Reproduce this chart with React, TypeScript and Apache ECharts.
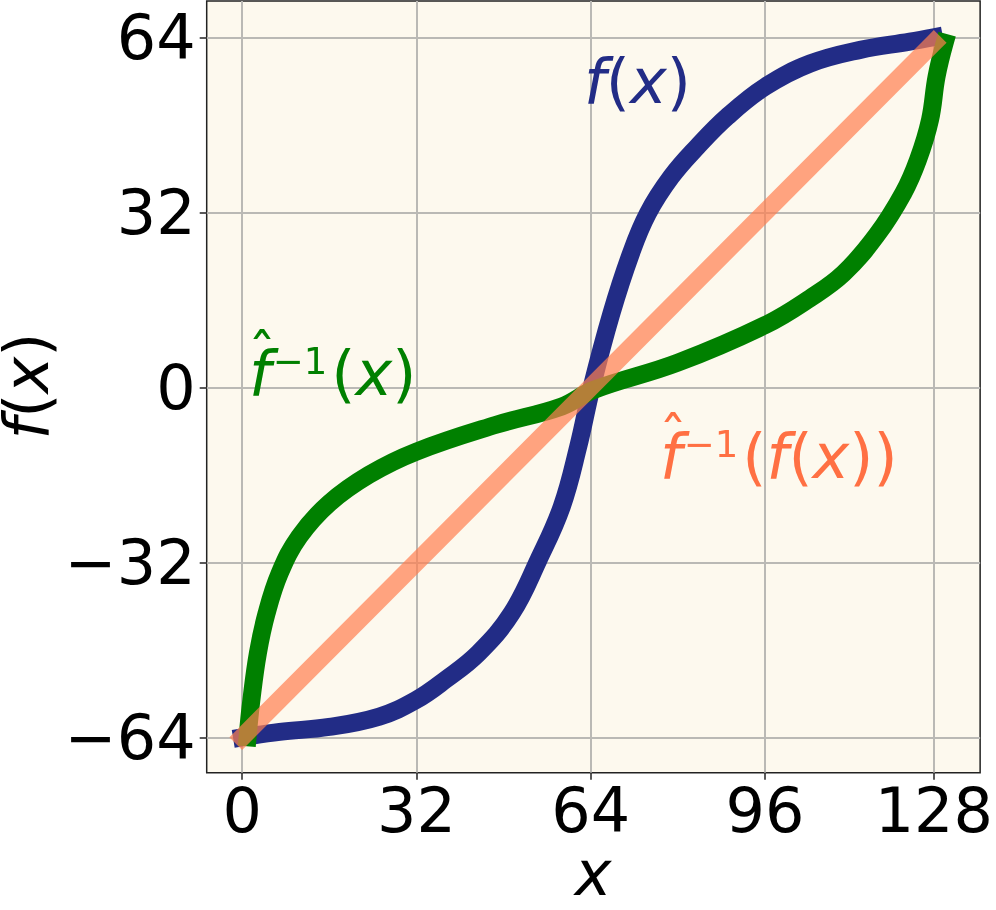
import React, { useEffect, useRef } from 'react';
import * as echarts from 'echarts';

// ---- data ----
const blueX = [0, 6.9, 16.0, 25.2, 31.9, 37.3, 43.4, 49.5, 54.4, 58.7, 61.7, 64.2, 67.8, 71.4, 74.5, 78.8, 83.6, 89.1, 96.1, 104.3, 113.5, 122.6, 127];
const blueY = [-64, -63.0, -62.1, -60.2, -57.2, -53.5, -48.6, -41.3, -31.6, -21.8, -10.9, 0.1, 13.5, 24.5, 31.8, 38.5, 44.0, 49.5, 55.0, 59.2, 61.7, 63.2, 64];

const greenX = [1, 1.7, 2.9, 4.5, 6.9, 10.5, 16.0, 23.3, 31.9, 46.5, 58.7, 64.5, 80.0, 96.1, 104.3, 110.4, 116.5, 121.4, 124.1, 126.3, 127.5, 129];
const greenY = [-64, -57.2, -48.6, -41.3, -34.0, -27.3, -21.2, -16.0, -11.8, -6.9, -3.5, -0.5, 4.5, 11.4, 16.3, 20.8, 27.8, 35.5, 41.6, 48.9, 56.8, 63];

const orangeX = [0, 127];
const orangeY = [-64, 63];

const xTickValues = [0, 32, 64, 96, 127];
const xTickLabels = ['0', '32', '64', '96', '128'];
const yTickValues = [-64, -32, 0, 32, 64];
const yTickLabels = ['\u221264', '\u221232', '0', '32', '64'];

const BLUE = '#222C86';
const GREEN = '#008000';
const CORAL = '#FF7F50';
const CORAL_TEXT = '#FF7043';
const FONT = "'DejaVu Sans', sans-serif";

const pairs = (xs: number[], ys: number[]) => xs.map((x, i) => [x, ys[i]]);

function mathRich(size: number, color: string) {
  return {
    i: { fontFamily: FONT, fontStyle: 'italic', fontSize: size, fill: color, color, lineHeight: size },
    u: { fontFamily: FONT, fontSize: size, fill: color, color, lineHeight: size },
    s: { fontFamily: FONT, fontSize: 37, fill: color, color, lineHeight: 44, verticalAlign: 'top', padding: [0, 4, 0, 2] },
  };
}

export default function App() {
  const ref = useRef<HTMLDivElement>(null);
  useEffect(() => {
    if (!ref.current) return;
    const chart = echarts.init(ref.current, undefined, { renderer: 'svg' });
    const lineSeries = (name: string, xs: number[], ys: number[], color: string, opacity: number) => ({
      name,
      type: 'line',
      data: pairs(xs, ys),
      showSymbol: false,
      symbol: 'none',
      smooth: 0.4,
      lineStyle: { color, width: 18, cap: 'square', join: 'round', opacity },
      emphasis: { disabled: true },
    });
    chart.setOption({
      animation: false,
      grid: {
        left: 206.7, top: 1, width: 777.3, height: 771.7,
        show: true, backgroundColor: '#FDF9EE', borderColor: '#222', borderWidth: 1.5,
      },
      xAxis: {
        type: 'value', min: -6.5, max: 135.5,
        axisLine: { show: false, onZero: false },
        axisTick: { show: true, length: 7, customValues: xTickValues, lineStyle: { color: '#222', width: 1.5 } },
        axisLabel: {
          customValues: xTickValues, margin: 7, fontSize: 62, fontFamily: FONT, color: '#000',
          formatter: (v: number) => xTickLabels[xTickValues.indexOf(v)] ?? '',
        },
        splitLine: { show: true, lineStyle: { color: '#BAB9B5', width: 2 } },
      },
      yAxis: {
        type: 'value', min: -70.47, max: 70.63,
        axisLine: { show: false, onZero: false },
        axisTick: { show: true, length: 7, customValues: yTickValues, lineStyle: { color: '#222', width: 1.5 } },
        axisLabel: {
          customValues: yTickValues, margin: 11, fontSize: 62, fontFamily: FONT, color: '#000',
          formatter: (v: number) => yTickLabels[yTickValues.indexOf(v)] ?? '',
        },
        splitLine: { show: true, lineStyle: { color: '#BAB9B5', width: 2 } },
      },
      series: [
        lineSeries('f(x)', blueX, blueY, BLUE, 1),
        lineSeries('f^-1(x)', greenX, greenY, GREEN, 1),
        lineSeries('f^-1(f(x))', orangeX, orangeY, CORAL, 0.7),
      ],
      graphic: [
        {
          type: 'text', x: 584, y: 81.2, z: 10,
          style: { text: '{i|f}{u|(}{i|x}{u|)}', rich: mathRich(62, BLUE), align: 'left', verticalAlign: 'middle' },
        },
        {
          type: 'text', x: 249, y: 373.5, z: 10,
          style: { text: '{i|f}{s|\u22121}{u|(}{i|x}{u|)}', rich: mathRich(62, GREEN), align: 'left', verticalAlign: 'middle' },
        },
        {
          type: 'text', x: 262, y: 353, z: 10,
          style: { text: '\u02C6', fontFamily: FONT, fontSize: 56, fill: GREEN, align: 'center', verticalAlign: 'middle' },
        },
        {
          type: 'text', x: 660, y: 456.8, z: 10,
          style: { text: '{i|f}{s|\u22121}{u|(}{i|f}{u|(}{i|x}{u|))}', rich: mathRich(62, CORAL_TEXT), align: 'left', verticalAlign: 'middle' },
        },
        {
          type: 'text', x: 673, y: 436, z: 10,
          style: { text: '\u02C6', fontFamily: FONT, fontSize: 56, fill: CORAL_TEXT, align: 'center', verticalAlign: 'middle' },
        },
        {
          type: 'text', x: 593, y: 873.5, z: 10,
          style: { text: 'x', fontFamily: FONT, fontStyle: 'italic', fontSize: 62, fill: '#000', align: 'center', verticalAlign: 'middle' },
        },
        {
          type: 'text', x: 26, y: 386, rotation: Math.PI / 2, z: 10,
          style: { text: '{i|f}{u|(}{i|x}{u|)}', rich: mathRich(62, '#000'), align: 'center', verticalAlign: 'middle' },
        },
      ],
    });
    return () => chart.dispose();
  }, []);
  return <div ref={ref} style={{ position: 'fixed', left: 0, top: 0, width: 996, height: 910 }} />;
}
